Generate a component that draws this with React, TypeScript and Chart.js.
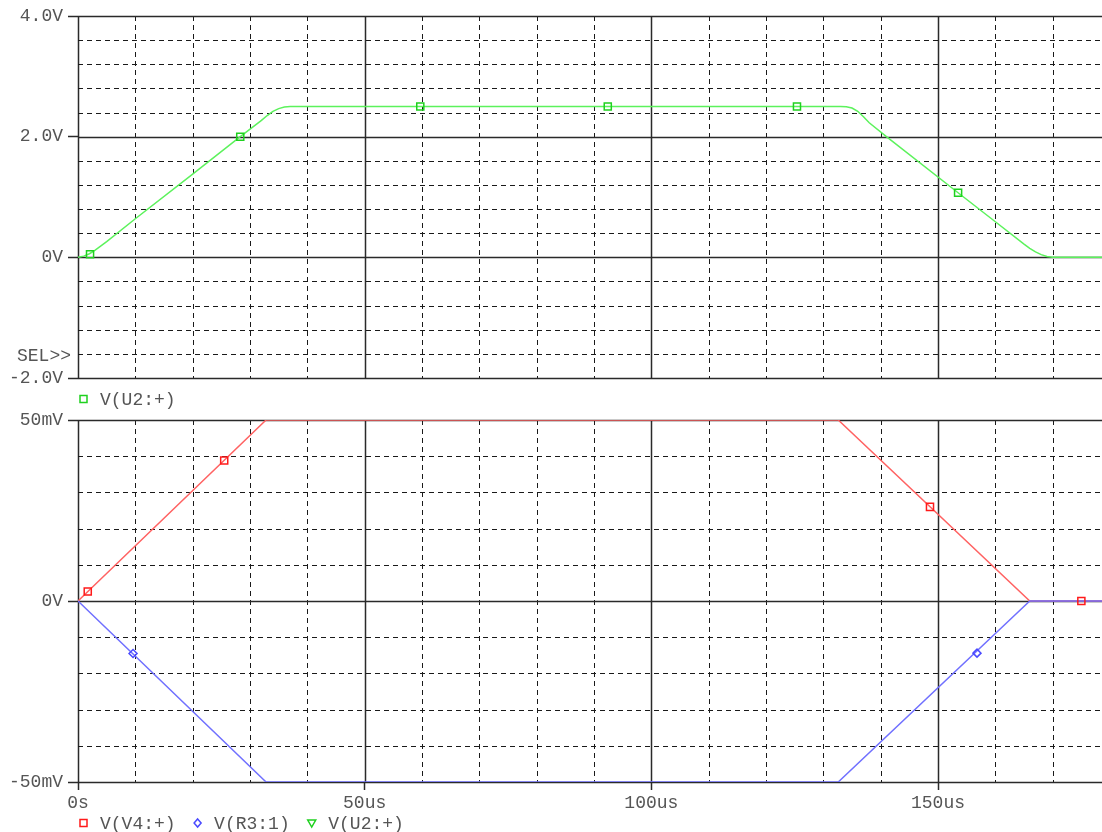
import React, { useEffect, useRef } from "react";
import { Chart, registerables } from "chart.js";

Chart.register(...registerables);

// ---------- data ----------
const xTickValues = [0, 50, 100, 150];
const xTickLabels = ["0s", "50us", "100us", "150us"];
const xMax = 178.6;

const topYTickValues = [-2, 0, 2, 4];
const topYTickLabels = ["-2.0V", "0V", "2.0V", "4.0V"];
const bottomYTickValues = [-50, 0, 50];
const bottomYTickLabels = ["-50mV", "0V", "50mV"];

// V(U2:+) in volts
const u2Time = [0, 1, 2, 3, 4, 5, 10, 20, 28.3, 32, 33, 34, 35, 36, 37, 38, 60, 100, 133, 134, 135, 136, 137, 138, 141, 153.5, 160, 165, 166, 167, 168, 169, 170, 171, 178.6];
const u2Volt = [0, 0.02, 0.06, 0.12, 0.19, 0.26, 0.64, 1.38, 2.0, 2.27, 2.35, 2.42, 2.465, 2.49, 2.5, 2.5, 2.5, 2.5, 2.5, 2.497, 2.475, 2.42, 2.33, 2.23, 2.0, 1.07, 0.59, 0.22, 0.15, 0.09, 0.045, 0.015, 0.003, 0, 0];
const u2MarkTime = [2.1, 28.3, 59.7, 92.4, 125.4, 153.5];
const u2MarkVolt = [0.05, 2.0, 2.5, 2.5, 2.5, 1.07];

// V(V4:+) in mV
const v4Time = [0, 32.8, 132.6, 166, 178.6];
const v4mV = [0, 50, 50, 0, 0];
const v4MarkTime = [1.7, 25.5, 148.6, 175];
const v4MarkmV = [2.6, 38.8, 26, 0];

// V(R3:1) in mV
const r3Time = [0, 32.8, 132.6, 166, 178.6];
const r3mV = [0, -50, -50, 0, 0];
const r3MarkTime = [9.6, 156.8];
const r3MarkmV = [-14.5, -14.4];

const topLegendLabels = ["V(U2:+)"];
const bottomLegendLabels = ["V(V4:+)", "V(R3:1)", "V(U2:+)"];

// ---------- styles ----------
const FONT = '"Courier New", "Liberation Mono", monospace';
const TEXT_COLOR = "#555555";
const GREEN_LINE = "#5cf25c";
const GREEN_MARK = "#1fd11f";
const RED_LINE = "#ff6262";
const RED_MARK = "#ff1a1a";
const BLUE_LINE = "#7070ff";
const BLUE_MARK = "#4a4aff";

type Pt = { x: number; y: number };
const zip = (xs: number[], ys: number[]): Pt[] => xs.map((x, i) => ({ x, y: ys[i] }));

function drawMarker(ctx: CanvasRenderingContext2D, style: string, x: number, y: number, color: string) {
  ctx.save();
  ctx.strokeStyle = color;
  ctx.lineWidth = 1.5;
  ctx.setLineDash([]);
  ctx.beginPath();
  if (style === "rect") {
    ctx.rect(x - 3.5, y - 3.5, 7, 7);
  } else if (style === "diamond") {
    ctx.moveTo(x, y - 4);
    ctx.lineTo(x + 3.5, y);
    ctx.lineTo(x, y + 4);
    ctx.lineTo(x - 3.5, y);
    ctx.closePath();
  } else {
    ctx.moveTo(x - 4, y - 3);
    ctx.lineTo(x + 4, y - 3);
    ctx.lineTo(x, y + 4);
    ctx.closePath();
  }
  ctx.stroke();
  ctx.restore();
}

function gridPlugin(xStep: number, xMajor: number, yStep: number, yMajor: number) {
  return {
    id: "pspiceGrid",
    beforeDatasetsDraw(chart: any) {
      const { ctx, chartArea, scales } = chart;
      const { left, right, top, bottom } = chartArea;
      const xs = scales.x;
      const ys = scales.y;
      const isMajor = (v: number, m: number) => Math.abs(v / m - Math.round(v / m)) < 1e-6;
      ctx.save();
      const nx = Math.floor((xs.max - xs.min) / xStep + 1e-6);
      for (let i = 0; i <= nx; i++) {
        const v = xs.min + i * xStep;
        const px = Math.round(xs.getPixelForValue(v)) + 0.5;
        if (px > right + 0.6) continue;
        const major = isMajor(v, xMajor);
        ctx.beginPath();
        ctx.setLineDash(major ? [] : [5, 4]);
        ctx.lineWidth = major ? 1.5 : 1;
        ctx.strokeStyle = major ? "#2a2a2a" : "#1a1a1a";
        ctx.moveTo(px, top);
        ctx.lineTo(px, bottom);
        ctx.stroke();
      }
      const ny = Math.round((ys.max - ys.min) / yStep);
      for (let i = 0; i <= ny; i++) {
        const v = ys.min + i * yStep;
        const py = Math.round(ys.getPixelForValue(v)) + 0.5;
        const major = isMajor(v, yMajor);
        ctx.beginPath();
        ctx.setLineDash(major ? [] : [5, 4]);
        ctx.lineWidth = major ? 1.5 : 1;
        ctx.strokeStyle = major ? "#2a2a2a" : "#1a1a1a";
        ctx.moveTo(left, py);
        ctx.lineTo(right, py);
        ctx.stroke();
      }
      ctx.restore();
    },
  };
}

function legendPlugin(labels: string[], styles: string[], colors: string[], legendY: number, extra?: (chart: any) => void) {
  return {
    id: "pspiceLegend",
    afterDraw(chart: any) {
      const { ctx, chartArea } = chart;
      ctx.save();
      ctx.font = `18px ${FONT}`;
      ctx.fillStyle = TEXT_COLOR;
      ctx.textBaseline = "middle";
      ctx.textAlign = "left";
      let mx = chartArea.left + 5.5;
      labels.forEach((lab, i) => {
        drawMarker(ctx, styles[i], mx, legendY, colors[i]);
        const tx = mx + 16.5;
        ctx.fillText(lab, tx, legendY + 1);
        const w = ctx.measureText(lab).width;
        mx = tx + w + 22;
      });
      if (extra) extra(chart);
      ctx.restore();
    },
  };
}

function yTickCallback(values: number[], labels: string[]) {
  return (value: any) => {
    const i = values.findIndex((v) => Math.abs(v - Number(value)) < 1e-9);
    return i >= 0 ? labels[i] : "";
  };
}

function baseScales(yMin: number, yMax: number, yVals: number[], yLabels: string[], showX: boolean, xHeight: number) {
  return {
    x: {
      type: "linear",
      min: 0,
      max: xMax,
      afterBuildTicks: (s: any) => {
        s.ticks = xTickValues.map((v) => ({ value: v }));
      },
      ticks: {
        display: showX,
        maxRotation: 0,
        autoSkip: false,
        padding: 2,
        color: TEXT_COLOR,
        font: { family: FONT, size: 18 },
        callback: (value: any) => {
          const i = xTickValues.findIndex((v) => Math.abs(v - Number(value)) < 1e-9);
          return i >= 0 ? xTickLabels[i] : "";
        },
      },
      grid: {
        display: showX,
        drawOnChartArea: false,
        drawTicks: showX,
        tickLength: 8,
        tickColor: "#2a2a2a",
        tickWidth: 1.5,
      },
      border: { display: false },
      afterFit: (s: any) => {
        s.height = xHeight;
      },
    },
    y: {
      type: "linear",
      min: yMin,
      max: yMax,
      afterBuildTicks: (s: any) => {
        s.ticks = yVals.map((v) => ({ value: v }));
      },
      ticks: {
        padding: 5,
        color: TEXT_COLOR,
        font: { family: FONT, size: 18 },
        callback: yTickCallback(yVals, yLabels),
      },
      grid: {
        display: true,
        drawOnChartArea: false,
        drawTicks: true,
        tickLength: 10,
        tickColor: "#2a2a2a",
        tickWidth: 1.5,
      },
      border: { display: false },
      afterFit: (s: any) => {
        s.width = 78;
      },
    },
  };
}

const markerDataset = (data: Pt[], style: string, radius: number, color: string) => ({
  data,
  order: 0,
  showLine: false,
  pointStyle: style,
  pointRadius: radius,
  pointBorderWidth: 1.5,
  borderColor: color,
  pointBorderColor: color,
  backgroundColor: "rgba(0,0,0,0)",
  pointBackgroundColor: "rgba(0,0,0,0)",
});

const lineDataset = (data: Pt[], color: string, order: number) => ({
  data,
  order,
  borderColor: color,
  borderWidth: 1.5,
  pointRadius: 0,
  tension: 0,
});

function TopPanel() {
  const ref = useRef<HTMLCanvasElement | null>(null);
  useEffect(() => {
    if (!ref.current) return;
    const chart = new Chart(ref.current, {
      type: "line",
      data: {
        datasets: [
          lineDataset(zip(u2Time, u2Volt), GREEN_LINE, 1),
          markerDataset(zip(u2MarkTime, u2MarkVolt), "rect", 5, GREEN_MARK),
        ],
      } as any,
      options: {
        responsive: false,
        animation: false,
        events: [],
        layout: { autoPadding: false, padding: { top: 16, left: 0, right: 0, bottom: 0 } },
        plugins: { legend: { display: false }, tooltip: { enabled: false } },
        scales: baseScales(-2, 4, topYTickValues, topYTickLabels, false, 32) as any,
      } as any,
      plugins: [
        gridPlugin(10, 50, 0.4, 2),
        legendPlugin(topLegendLabels, ["rect"], [GREEN_MARK], 399, (c: any) => {
          const cx = c.ctx;
          cx.textAlign = "right";
          cx.fillStyle = TEXT_COLOR;
          cx.fillText("SEL>>", c.chartArea.left - 7, 356);
        }),
      ],
    });
    return () => chart.destroy();
  }, []);
  return <canvas ref={ref} width={1102} height={410} style={{ position: "absolute", left: 0, top: 0 }} />;
}

function BottomPanel() {
  const ref = useRef<HTMLCanvasElement | null>(null);
  useEffect(() => {
    if (!ref.current) return;
    const chart = new Chart(ref.current, {
      type: "line",
      data: {
        datasets: [
          lineDataset(zip(v4Time, v4mV), RED_LINE, 2),
          lineDataset(zip(r3Time, r3mV), BLUE_LINE, 1),
          markerDataset(zip(v4MarkTime, v4MarkmV), "rect", 5, RED_MARK),
          markerDataset(zip(r3MarkTime, r3MarkmV), "rectRot", 4, BLUE_MARK),
        ],
      } as any,
      options: {
        responsive: false,
        animation: false,
        events: [],
        layout: { autoPadding: false, padding: { top: 26, left: 0, right: 0, bottom: 0 } },
        plugins: { legend: { display: false }, tooltip: { enabled: false } },
        scales: baseScales(-50, 50, bottomYTickValues, bottomYTickLabels, true, 50) as any,
      } as any,
      plugins: [
        gridPlugin(10, 50, 10, 50),
        legendPlugin(bottomLegendLabels, ["rect", "diamond", "triangle"], [RED_MARK, BLUE_MARK, GREEN_MARK], 429),
      ],
    });
    return () => chart.destroy();
  }, []);
  return <canvas ref={ref} width={1102} height={438} style={{ position: "absolute", left: 0, top: 394 }} />;
}

export default function App() {
  return (
    <div style={{ position: "absolute", left: 0, top: 0, width: 1102, height: 832, background: "#fff", overflow: "hidden" }}>
      <TopPanel />
      <BottomPanel />
    </div>
  );
}
